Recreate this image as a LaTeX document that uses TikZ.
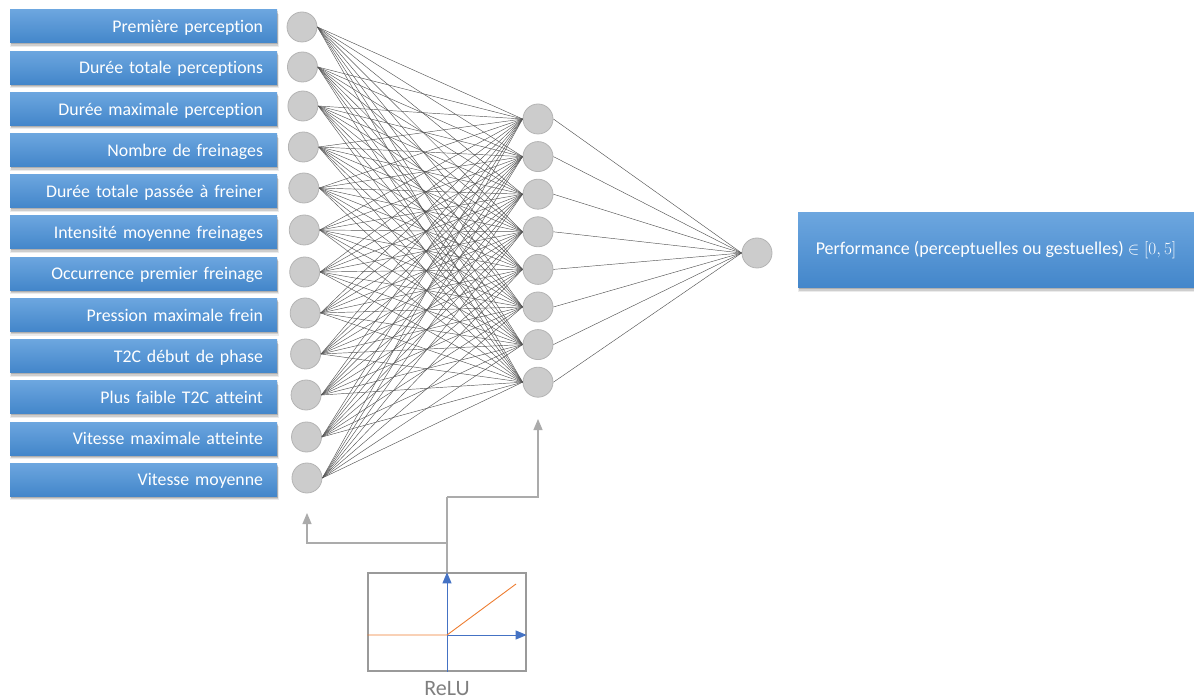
\documentclass[tikz,border=0pt]{standalone}
\usepackage{fontspec}
\setmainfont[Ligatures=NoCommon]{Carlito}
\usetikzlibrary{shadows,arrows.meta,calc}
\definecolor{boxtop}{HTML}{6CA6DF}
\definecolor{boxbot}{HTML}{4386CA}
\definecolor{neuron}{HTML}{CCCCCC}
\definecolor{neuronedge}{HTML}{B4B4B4}
\definecolor{wire}{HTML}{555555}
\definecolor{conn}{HTML}{ABABAB}
\definecolor{axisblue}{HTML}{4472C4}
\definecolor{reluorange}{HTML}{ED7D31}
\definecolor{framegray}{HTML}{9A9A9A}
\definecolor{labelgray}{HTML}{7F7F7F}
\tikzset{
  bluebox/.style={rectangle, top color=boxtop, bottom color=boxbot, draw=none,
    text=white, font=\fontsize{17.8}{21}\selectfont,
    drop shadow={shadow xshift=1pt, shadow yshift=-4pt, shadow scale=1.005, fill=black, opacity=0.08},
    drop shadow={shadow xshift=1pt, shadow yshift=-3pt, fill=black, opacity=0.12},
    drop shadow={shadow xshift=1pt, shadow yshift=-1.5pt, fill=black, opacity=0.15}},
  inbox/.style={bluebox, minimum height=33pt, text width=239pt, align=right, inner xsep=14pt,
    text depth=0pt},
  outbox/.style={bluebox, font=\fontsize{18}{22}\selectfont, minimum height=75pt, minimum width=396pt, align=center},
  neuronnode/.style={circle, minimum size=30pt, inner sep=0pt, fill=neuron, draw=neuronedge, line width=0.8pt},
  weight/.style={draw=wire, line width=0.45pt},
  feed/.style={draw=conn, line width=1.2pt, -{Triangle[width=9pt,length=11pt]}},
  plain/.style={draw=conn, line width=1.2pt},
}
\begin{document}
\begin{tikzpicture}[x=1pt,y=-1pt]
\useasboundingbox (0,0) rectangle (1194,700);
% input boxes
\foreach \t [count=\i] in {Première perception, Durée totale perceptions, Durée maximale perception,
  Nombre de freinages, Durée totale passée à freiner, Intensité moyenne freinages,
  Occurrence premier freinage, Pression maximale frein, T2C début de phase,
  Plus faible T2C atteint, Vitesse maximale atteinte, Vitesse moyenne}{
  \node[inbox] (in\i) at (143.5, {26.5+41.2*(\i-1)}) {\t};
}
% input neurons
\foreach \y [count=\i] in {27,67,106,147,188,230,272,313,354,395,437,478}{
  \node[neuronnode] (i\i) at ({302+0.45*(\i-1)}, \y) {};
}
% hidden neurons
\foreach \i in {1,...,8}{
  \node[neuronnode] (h\i) at (538, {119+37.6*(\i-1)}) {};
}
% output neuron
\node[neuronnode] (o) at (757,253) {};
% weights
\foreach \i in {1,...,12}{
  \foreach \j in {1,...,8}{
    \draw[weight] (i\i.east) -- (h\j.west);
  }
}
\foreach \j in {1,...,8}{
  \draw[weight] (h\j.east) -- (o.west);
}
% output box
\node[outbox] (out) at (996,250.5) {Performance (perceptuelles ou gestuelles) $\in [0,5]$};
% ReLU panel
\node[draw=framegray, line width=1.3pt, minimum width=158pt, minimum height=98pt, inner sep=0pt] (relu) at (447,622) {};
\node[text=labelgray, font=\fontsize{22}{26}\selectfont] (relulabel) at (447,689) {ReLU};
\coordinate (ax0) at (447,635);
\coordinate (axb) at (relu.south);
\coordinate (axt) at (relu.north);
\coordinate (axr) at (relu.east |- ax0);
\coordinate (axl) at (relu.west |- ax0);
\coordinate (rtip) at (516,584);
% connectors from ReLU
\coordinate (j1) at (447,543);
\coordinate (j2) at (447,497);
\coordinate (a1) at (307,513);
\coordinate (a2) at (538,419);
\draw[plain] (relu.north) -- (j2);
\draw[feed] (j1) -| (a1);
\draw[feed] (j2) -| (a2);
\draw[axisblue, line width=0.9pt, -{Triangle[width=9pt,length=11pt]}] (axb) -- (axt);
\draw[axisblue, line width=0.9pt, -{Triangle[width=9pt,length=11pt]}] (ax0) -- (axr);
\draw[reluorange, line width=0.9pt] (axl) -- (ax0) -- (rtip);
\end{tikzpicture}
\end{document}
